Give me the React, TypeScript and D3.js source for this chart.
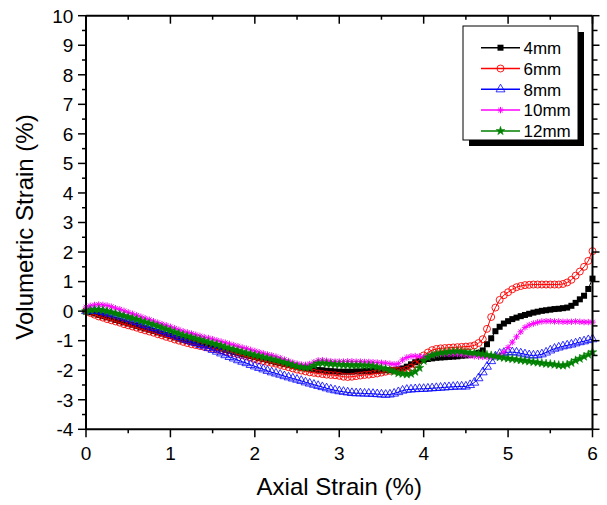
import React from 'react';
import * as d3 from 'd3';

// sampling grid of axial strain (%), one reading every 0.05 %
const strainStep = 0.05;
const strainCount = 121;

const vol4mm = [
  0, -0.04, -0.08, -0.13, -0.17, -0.21, -0.25, -0.3, -0.34, -0.38,
  -0.42, -0.46, -0.5, -0.55, -0.59, -0.63, -0.67, -0.72, -0.76, -0.8,
  -0.84, -0.89, -0.93, -0.97, -1.01, -1.05, -1.08, -1.11, -1.14, -1.17,
  -1.2, -1.24, -1.27, -1.31, -1.34, -1.38, -1.41, -1.45, -1.48, -1.52,
  -1.55, -1.59, -1.62, -1.66, -1.69, -1.73, -1.76, -1.79, -1.82, -1.85,
  -1.88, -1.91, -1.93, -1.95, -1.97, -1.99, -2.0, -2.02, -2.03, -2.04,
  -2.05, -2.05, -2.05, -2.05, -2.04, -2.04, -2.03, -2.03, -2.02, -2.02,
  -2.01, -2.0, -2.0, -1.99, -1.97, -1.94, -1.88, -1.8, -1.73, -1.68,
  -1.65, -1.62, -1.6, -1.58, -1.57, -1.56, -1.55, -1.54, -1.53, -1.51,
  -1.5, -1.48, -1.45, -1.41, -1.33, -1.12, -0.92, -0.68, -0.53, -0.42,
  -0.34, -0.27, -0.22, -0.17, -0.13, -0.09, -0.05, -0.02, 0.01, 0.03,
  0.05, 0.07, 0.08, 0.1, 0.12, 0.18, 0.28, 0.4, 0.52, 0.75,
  1.1,
];

const vol6mm = [
  0, -0.06, -0.12, -0.18, -0.22, -0.27, -0.31, -0.35, -0.39, -0.44,
  -0.48, -0.52, -0.56, -0.61, -0.65, -0.69, -0.73, -0.78, -0.82, -0.87,
  -0.91, -0.96, -1.0, -1.04, -1.08, -1.12, -1.15, -1.18, -1.21, -1.24,
  -1.27, -1.3, -1.33, -1.36, -1.39, -1.42, -1.46, -1.49, -1.53, -1.57,
  -1.62, -1.66, -1.69, -1.72, -1.75, -1.78, -1.82, -1.86, -1.9, -1.94,
  -1.98, -2.01, -2.04, -2.07, -2.09, -2.11, -2.13, -2.15, -2.16, -2.17,
  -2.19, -2.22, -2.23, -2.22, -2.2, -2.18, -2.16, -2.15, -2.13, -2.11,
  -2.08, -2.05, -2.02, -2.01, -2.02, -2.03, -1.98, -1.91, -1.8, -1.65,
  -1.5, -1.4, -1.32, -1.28, -1.26, -1.25, -1.24, -1.23, -1.22, -1.21,
  -1.2, -1.19, -1.16, -1.08, -0.95, -0.6, -0.2, 0.12, 0.38, 0.54,
  0.64, 0.74, 0.81, 0.85, 0.88, 0.89, 0.9, 0.9, 0.9, 0.9,
  0.9, 0.9, 0.9, 0.92, 0.97, 1.06, 1.2, 1.34, 1.5, 1.7,
  2.03,
];

const vol8mm = [
  0, 0.01, 0.01, 0, -0.03, -0.07, -0.1, -0.14, -0.18, -0.22,
  -0.27, -0.32, -0.37, -0.42, -0.47, -0.52, -0.57, -0.62, -0.67, -0.72,
  -0.77, -0.82, -0.87, -0.93, -0.98, -1.03, -1.08, -1.14, -1.19, -1.25,
  -1.31, -1.37, -1.43, -1.49, -1.55, -1.6, -1.66, -1.71, -1.76, -1.82,
  -1.87, -1.92, -1.97, -2.02, -2.07, -2.11, -2.15, -2.2, -2.24, -2.28,
  -2.32, -2.36, -2.41, -2.45, -2.49, -2.53, -2.57, -2.61, -2.65, -2.68,
  -2.71, -2.73, -2.75, -2.77, -2.78, -2.78, -2.79, -2.79, -2.8, -2.81,
  -2.82, -2.83, -2.82, -2.79, -2.74, -2.69, -2.66, -2.65, -2.64, -2.63,
  -2.63, -2.62, -2.61, -2.6, -2.59, -2.58, -2.57, -2.56, -2.55, -2.55,
  -2.55, -2.5, -2.42, -2.27, -2.07, -1.88, -1.69, -1.53, -1.44, -1.41,
  -1.39, -1.39, -1.4, -1.43, -1.46, -1.49, -1.5, -1.49, -1.46, -1.4,
  -1.33, -1.27, -1.23, -1.19, -1.16, -1.13, -1.09, -1.05, -1.02, -0.98,
  -0.95,
];

const vol10mm = [
  0.14, 0.18, 0.21, 0.22, 0.21, 0.19, 0.15, 0.1, 0.06, 0.01,
  -0.04, -0.09, -0.14, -0.19, -0.24, -0.29, -0.34, -0.39, -0.44, -0.48,
  -0.53, -0.58, -0.63, -0.68, -0.72, -0.76, -0.8, -0.84, -0.88, -0.91,
  -0.95, -0.99, -1.03, -1.07, -1.11, -1.15, -1.19, -1.23, -1.27, -1.31,
  -1.35, -1.39, -1.43, -1.47, -1.5, -1.54, -1.59, -1.64, -1.69, -1.74,
  -1.78, -1.81, -1.82, -1.79, -1.73, -1.67, -1.66, -1.68, -1.7, -1.71,
  -1.71, -1.71, -1.7, -1.7, -1.71, -1.71, -1.72, -1.72, -1.73, -1.74,
  -1.75, -1.76, -1.78, -1.8, -1.78, -1.65, -1.57, -1.53, -1.52, -1.53,
  -1.55, -1.54, -1.49, -1.46, -1.45, -1.45, -1.45, -1.45, -1.45, -1.46,
  -1.48, -1.51, -1.53, -1.54, -1.55, -1.55, -1.55, -1.53, -1.49, -1.38,
  -1.23, -1.05, -0.87, -0.7, -0.55, -0.47, -0.42, -0.38, -0.35, -0.34,
  -0.34, -0.35, -0.35, -0.36, -0.36, -0.36, -0.35, -0.36, -0.37, -0.37,
  -0.37,
];

const vol12mm = [
  0, 0.03, 0.05, 0.05, 0.03, 0, -0.04, -0.08, -0.12, -0.16,
  -0.2, -0.24, -0.28, -0.33, -0.37, -0.42, -0.46, -0.51, -0.56, -0.61,
  -0.66, -0.71, -0.76, -0.81, -0.85, -0.89, -0.93, -0.97, -1.01, -1.05,
  -1.09, -1.13, -1.17, -1.22, -1.26, -1.3, -1.34, -1.38, -1.42, -1.45,
  -1.49, -1.52, -1.56, -1.59, -1.63, -1.66, -1.7, -1.74, -1.78, -1.83,
  -1.87, -1.9, -1.92, -1.91, -1.84, -1.77, -1.76, -1.78, -1.79, -1.8,
  -1.81, -1.82, -1.82, -1.83, -1.83, -1.83, -1.84, -1.84, -1.86, -1.89,
  -1.92, -1.95, -2.0, -2.05, -2.1, -2.12, -2.14, -2.12, -2.05, -1.92,
  -1.68, -1.56, -1.49, -1.45, -1.42, -1.4, -1.38, -1.37, -1.36, -1.37,
  -1.39, -1.41, -1.42, -1.44, -1.46, -1.48, -1.5, -1.53, -1.56, -1.58,
  -1.6, -1.62, -1.64, -1.66, -1.68, -1.7, -1.72, -1.74, -1.76, -1.78,
  -1.79, -1.81, -1.83, -1.84, -1.81, -1.75, -1.67, -1.61, -1.54, -1.47,
  -1.39,
];

const seriesNames = ['4mm', '6mm', '8mm', '10mm', '12mm'];
const seriesColors = ['#000000', '#ff0000', '#0000ff', '#ff00ff', '#008000'];
const seriesMarkers = ['square', 'circle', 'triangle', 'asterisk', 'star'];
const seriesValues = [vol4mm, vol6mm, vol8mm, vol10mm, vol12mm];

const xTickValues = [0, 1, 2, 3, 4, 5, 6];
const yTickValues = [-4, -3, -2, -1, 0, 1, 2, 3, 4, 5, 6, 7, 8, 9, 10];

const W = 607;
const H = 505;
const left = 86;
const right = 592.5;
const top = 15.7;
const bottom = 429.3;
const FONT = '"Liberation Sans", Arial, sans-serif';

const xScale = d3.scaleLinear().domain([0, 6]).range([left, right]);
const yScale = d3.scaleLinear().domain([-4, 10]).range([bottom, top]);

function Marker({ kind, color, x, y }: { kind: string; color: string; x: number; y: number }) {
  const t = `translate(${x},${y})`;
  if (kind === 'square') {
    return <rect x={x - 3} y={y - 3} width={6} height={6} fill={color} />;
  }
  if (kind === 'circle') {
    return <circle cx={x} cy={y} r={3.5} fill="none" stroke={color} strokeWidth={0.9} />;
  }
  if (kind === 'triangle') {
    const p = d3.symbol().type(d3.symbolTriangle).size(34)() as string;
    return <path d={p} transform={t} fill="none" stroke={color} strokeWidth={0.8} />;
  }
  if (kind === 'asterisk') {
    return (
      <path
        d="M-3.2,0H3.2M0,-3.2V3.2M-2.3,-2.3L2.3,2.3M-2.3,2.3L2.3,-2.3"
        transform={t}
        fill="none"
        stroke={color}
        strokeWidth={1}
      />
    );
  }
  const p = d3.symbol().type(d3.symbolStar).size(24)() as string;
  return <path d={p} transform={t} fill={color} stroke={color} strokeWidth={0.5} />;
}

export default function App() {
  const strain = d3.range(strainCount).map((i) => +(i * strainStep).toFixed(2));
  const line = d3
    .line<number>()
    .x((_, i) => xScale(strain[i]))
    .y((d) => yScale(d));

  const xMinor = d3.range(0.5, 6, 1);
  const yMinor = d3.range(-3.5, 10, 1);

  const legX = 463;
  const legY = 26;
  const legW = 115;
  const legH = 114;
  const rowY = (i: number) => 47.7 + i * 20.8;

  return (
    <svg
      width={W}
      height={H}
      style={{ position: 'absolute', left: 0, top: 0, background: '#fff' }}
      fontFamily={FONT}
    >
      <rect x={0} y={0} width={W} height={H} fill="#fff" />

      {/* series */}
      {seriesValues.map((vals, si) => (
        <g key={seriesNames[si]}>
          <path d={line(vals) as string} fill="none" stroke={seriesColors[si]} strokeWidth={1} />
          {vals.map((v, i) => (
            <Marker key={i} kind={seriesMarkers[si]} color={seriesColors[si]} x={xScale(strain[i])} y={yScale(v)} />
          ))}
        </g>
      ))}

      {/* frame */}
      <g stroke="#000" strokeWidth={2} fill="none">
        <line x1={left} x2={right} y1={bottom} y2={bottom} />
        <line x1={left} x2={right} y1={top} y2={top} />
        <line x1={left} x2={left} y1={top} y2={bottom} />
        <line x1={right} x2={right} y1={top} y2={bottom} />
      </g>

      {/* ticks */}
      <g stroke="#000" strokeWidth={1.5}>
        {xTickValues.map((t) => (
          <g key={'xt' + t}>
            <line x1={xScale(t)} x2={xScale(t)} y1={bottom} y2={bottom + 8} />
            <line x1={xScale(t)} x2={xScale(t)} y1={top} y2={top + 8} />
          </g>
        ))}
        {xMinor.map((t) => (
          <g key={'xm' + t}>
            <line x1={xScale(t)} x2={xScale(t)} y1={bottom} y2={bottom + 4} />
            <line x1={xScale(t)} x2={xScale(t)} y1={top} y2={top + 4} />
          </g>
        ))}
        {yTickValues.map((t) => (
          <g key={'yt' + t}>
            <line x1={left - 8} x2={left} y1={yScale(t)} y2={yScale(t)} />
            <line x1={right} x2={right + 7} y1={yScale(t)} y2={yScale(t)} />
          </g>
        ))}
        {yMinor.map((t) => (
          <g key={'ym' + t}>
            <line x1={left - 4} x2={left} y1={yScale(t)} y2={yScale(t)} />
            <line x1={right} x2={right + 5} y1={yScale(t)} y2={yScale(t)} />
          </g>
        ))}
      </g>

      {/* tick labels */}
      <g fontSize={19} fill="#000">
        {xTickValues.map((t) => (
          <text key={'xl' + t} x={xScale(t)} y={460} textAnchor="middle">
            {t}
          </text>
        ))}
        {yTickValues.map((t) => (
          <text key={'yl' + t} x={73.3} y={yScale(t) + 6.8} textAnchor="end">
            {t}
          </text>
        ))}
      </g>

      {/* axis titles */}
      <text x={(left + right) / 2} y={495} textAnchor="middle" fontSize={24} fill="#000">
        Axial Strain (%)
      </text>
      <text
        transform={`translate(33,227) rotate(-90)`}
        textAnchor="middle"
        fontSize={24}
        fill="#000"
      >
        Volumetric Strain (%)
      </text>

      {/* legend */}
      <rect x={legX + 6} y={legY + 6} width={legW} height={legH} fill="#000" />
      <rect x={legX} y={legY} width={legW} height={legH} fill="#fff" stroke="#000" strokeWidth={1} />
      {seriesNames.map((name, i) => (
        <g key={'lg' + name}>
          <line x1={481} x2={520} y1={rowY(i)} y2={rowY(i)} stroke={seriesColors[i]} strokeWidth={1.5} />
          <Marker kind={seriesMarkers[i]} color={seriesColors[i]} x={500.5} y={rowY(i)} />
          <text x={523.5} y={rowY(i) + 6.2} fontSize={17} fill="#000">
            {name}
          </text>
        </g>
      ))}
    </svg>
  );
}
